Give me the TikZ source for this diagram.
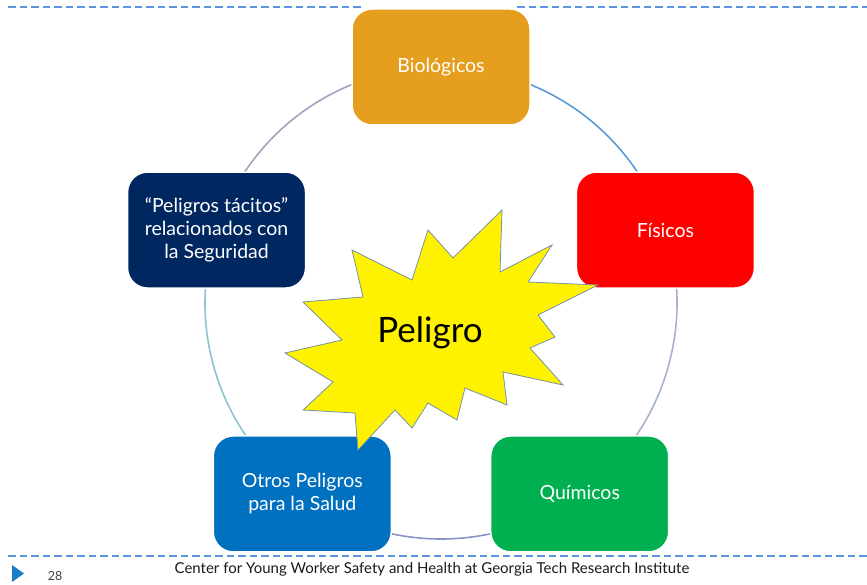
\documentclass[tikz,border=0pt]{standalone}
\usepackage{fontspec}
\setmainfont{Lato}
\usepackage{tikz}
\usetikzlibrary{backgrounds}
\usetikzlibrary{calc}

\definecolor{bioOrange}{HTML}{E59E1E}
\definecolor{fisRed}{HTML}{FF0000}
\definecolor{quiGreen}{HTML}{00B050}
\definecolor{otrosBlue}{HTML}{0070C0}
\definecolor{tacNavy}{HTML}{002760}
\definecolor{dashBlue}{HTML}{5A96DC}
\definecolor{ringA}{HTML}{5B9BD5}
\definecolor{ringB}{HTML}{A5B3CC}
\definecolor{ringC}{HTML}{8A93C8}
\definecolor{ringD}{HTML}{8CC4D0}
\definecolor{ringE}{HTML}{A8A0BC}
\definecolor{starEdge}{HTML}{7890AA}

\begin{document}
\begin{tikzpicture}[x=1pt, y=-1pt,
  hazard/.style={rectangle, rounded corners=20pt, draw=white, line width=1.5pt,
    minimum width=178pt, minimum height=116pt, text=white, align=center,
    font=\fontsize{19.5}{23}\selectfont},
  ring/.style={line width=1.6pt},
  rule/.style={dashBlue, line width=1.6pt, dash pattern=on 7.5pt off 4pt}]

  \useasboundingbox (0,0) rectangle (867,585);

  % page rules (the top one stops at the orange box)
  \draw[rule] (8,7) -- (363,7);
  \draw[rule] (517,7) -- (867,7);
  \draw[rule] (8,556) -- (867,556);

  % Nodes
  \coordinate (c) at (441,303);
  \node[hazard, fill=bioOrange] (bio) at ($(c)+(-90:236)$) {Biológicos};
  \node[hazard, fill=fisRed] (fis) at ($(c)+(-18:236)$) {Físicos};
  \node[hazard, fill=quiGreen] (qui) at ($(c)+(54:236)$) {Químicos};
  \node[hazard, fill=otrosBlue] (otros) at ($(c)+(126:236)$) {Otros Peligros\\para la Salud};
  \node[hazard, fill=tacNavy] (tac) at ($(c)+(198:236)$) {“Peligros tácitos”\\relacionados con\\la Seguridad};

  % ring behind the boxes
  \begin{scope}[on background layer]
    \draw[ring, ringA] (bio.center) arc[start angle=-90, end angle=-18, radius=236];
    \draw[ring, ringB] (fis.center) arc[start angle=-18, end angle=54, radius=236];
    \draw[ring, ringC] (qui.center) arc[start angle=54, end angle=126, radius=236];
    \draw[ring, ringD] (otros.center) arc[start angle=126, end angle=198, radius=236];
    \draw[ring, ringE] (tac.center) arc[start angle=198, end angle=270, radius=236];
  \end{scope}

  % burst in the middle
  \draw[fill=yellow, draw=starEdge, line width=0.8pt]
    (502,210) -- (500,272) -- (552,245) -- (528,282) -- (598,285) -- (538,315)
    -- (555,337) -- (530,348) -- (563,385) -- (503,372) -- (507,405) -- (465,388)
    -- (457,420) -- (428,403) -- (412,428) -- (395,410) -- (358,450) -- (355,413)
    -- (303,410) -- (333,382) -- (285,353) -- (342,340) -- (303,302) -- (363,297)
    -- (352,250) -- (412,280) -- (428,230) -- (453,258) -- cycle;
  \node[font=\fontsize{35}{35}\selectfont] (peligro) at (430,333) {Peligro};

  % footer
  \fill[otrosBlue!90] (12,565) -- (24,573.5) -- (12,582) -- cycle;
  \node[text=black!75, font=\fontsize{12.5}{12.5}\selectfont] (page) at (55,576) {28};
  \node[text=black!90, font=\fontsize{15}{15}\selectfont] (credit) at (432,569)
    {Center for Young Worker Safety and Health at Georgia Tech Research Institute};

\end{tikzpicture}
\end{document}
